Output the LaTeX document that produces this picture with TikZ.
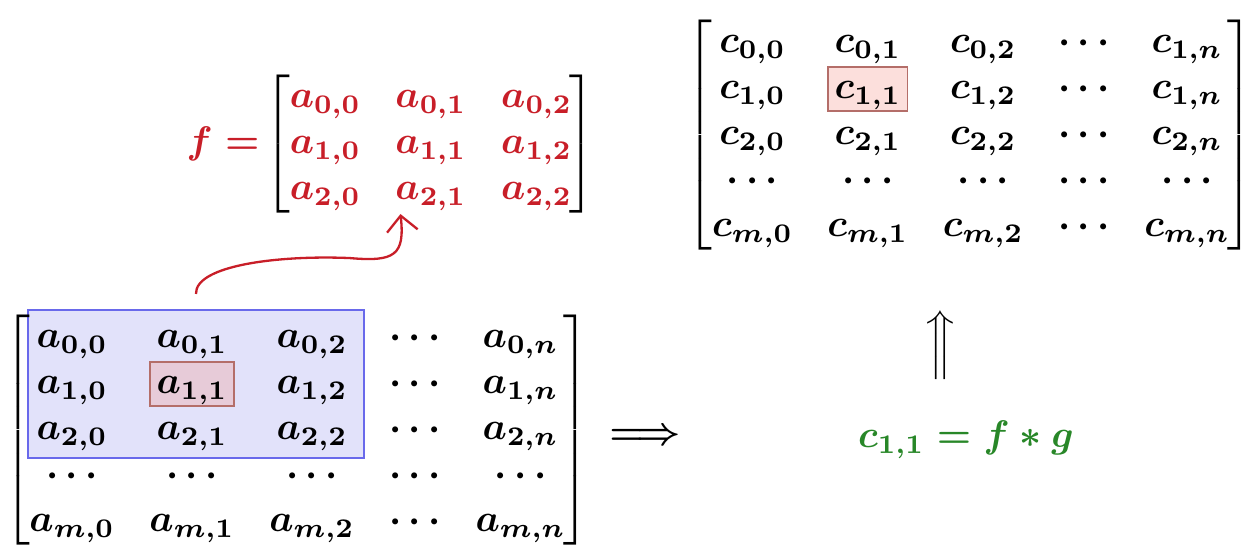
\documentclass[tikz,border=0pt]{standalone}
\usepackage{amsmath}
\usetikzlibrary{matrix,positioning,fit,arrows.meta,backgrounds}
\definecolor{fred}{RGB}{200,30,40}
\definecolor{fgreen}{RGB}{40,135,40}
\definecolor{winblue}{RGB}{105,105,235}
\definecolor{winfill}{RGB}{226,226,250}
\definecolor{celldraw}{RGB}{180,110,105}
\definecolor{cellfill}{RGB}{245,150,140}

\begin{document}
\begin{tikzpicture}[
    font=\boldmath,
    every left delimiter/.style={xshift=1.5pt},
    every right delimiter/.style={xshift=-2pt},
    mat/.style={matrix of math nodes, left delimiter={[}, right delimiter={]},
        column sep=9pt, inner xsep=0pt, inner ysep=1.8pt,
        cells={inner sep=0pt, text height=8.5pt, text depth=3.5pt}},
    window/.style={draw=winblue, fill=winfill, inner xsep=2pt, inner ysep=1pt},
    cell/.style={draw=celldraw, fill=cellfill, fill opacity=0.3, inner xsep=1.5pt, inner ysep=-0.5pt},
    curve/.style={-{Straight Barb[length=4pt,width=8pt]}, semithick, fred},
]
\useasboundingbox (0,0) rectangle (11.344,4.973);

% input matrix
\matrix[mat] (A) at (2.72,1.042) {
a_{0,0} & a_{0,1} & a_{0,2} & \cdots & a_{0,n} \\
a_{1,0} & a_{1,1} & a_{1,2} & \cdots & a_{1,n} \\
a_{2,0} & a_{2,1} & a_{2,2} & \cdots & a_{2,n} \\
\cdots  & \cdots  & \cdots  & \cdots & \cdots  \\
a_{m,0} & a_{m,1} & a_{m,2} & \cdots & a_{m,n} \\
};

% filter
\matrix[mat, fred, inner ysep=1pt] (F) at (3.940,3.656) {
a_{0,0} & a_{0,1} & a_{0,2} \\
a_{1,0} & a_{1,1} & a_{1,2} \\
a_{2,0} & a_{2,1} & a_{2,2} \\
};
\node[fred, inner sep=0pt, left=7.5pt of F.west] (feq) {$f =$};

% output matrix
\matrix[mat] (C) at (8.876,3.739) {
c_{0,0} & c_{0,1} & c_{0,2} & \cdots & c_{1,n} \\
c_{1,0} & c_{1,1} & c_{1,2} & \cdots & c_{1,n} \\
c_{2,0} & c_{2,1} & c_{2,2} & \cdots & c_{2,n} \\
\cdots  & \cdots  & \cdots  & \cdots & \cdots  \\
c_{m,0} & c_{m,1} & c_{m,2} & \cdots & c_{m,n} \\
};

% highlights
\begin{scope}[on background layer]
\node[window, fit={(A-1-1.north west) ([xshift=2pt]A-3-3.south east)}] (win) {};
\node[cell, fit=(A-2-2)] (acell) {};
\node[cell, fit=(C-2-2)] (ccell) {};
\end{scope}

% symbols
\node (implies) at (5.896,0.978) {$\Longrightarrow$};
\node (up) at (8.592,1.819) {$\Big\Uparrow$};
\node[fgreen] (conv) at (8.830,0.951) {$c_{1,1} = f * g$};

% arrow
\draw[curve] ([yshift=4pt]win.north) .. controls (1.782,2.550) and (2.559,2.642) .. (3.199,2.614)
    .. controls (3.611,2.578) and (3.702,2.642) .. ([xshift=1.5pt]F-3-2.south west);
\end{tikzpicture}
\end{document}
